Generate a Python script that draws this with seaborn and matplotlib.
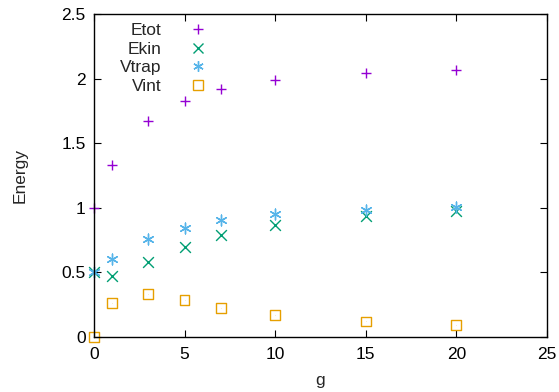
import numpy as np
import pandas as pd
from matplotlib import pyplot as plt
from matplotlib.lines import Line2D
import seaborn as sns

# valores
g = [0, 1, 3, 5, 7, 10, 15, 20]
etot = [1.0, 1.33, 1.67, 1.83, 1.92, 1.99, 2.04, 2.07]
ekin = [0.5, 0.47, 0.58, 0.70, 0.79, 0.87, 0.94, 0.975]
vtrap = [0.5, 0.60, 0.76, 0.84, 0.905, 0.95, 0.985, 1.005]
vint = [0.0, 0.26, 0.33, 0.285, 0.225, 0.17, 0.12, 0.09]

series = ["Etot", "Ekin", "Vtrap", "Vint"]
colores = ["#9400d3", "#009e73", "#56b4e9", "#e69f00"]
asterisco = (6, 2, 0)
marcadores = ["+", "x", asterisco, "s"]

sns.set_style("ticks")
plt.rcParams['font.family'] = ['Liberation Sans', 'DejaVu Sans']

df = pd.DataFrame({"g": g, "Etot": etot, "Ekin": ekin, "Vtrap": vtrap, "Vint": vint})

fig = plt.figure(figsize=(5.59, 3.92), dpi=100)
ax = fig.add_axes([0.168, 0.1403, 0.8105, 0.824])

for nombre, color, m in zip(series, colores, marcadores):
    if m == "s":
        sns.scatterplot(data=df, x="g", y=nombre, ax=ax, marker="s", s=50,
                        facecolor="none", edgecolor=color, linewidth=1.0, clip_on=False)
        sns.scatterplot(data=df, x="g", y=nombre, ax=ax, marker=".", s=2,
                        color=color, linewidth=0, clip_on=False)
    else:
        sns.scatterplot(data=df, x="g", y=nombre, ax=ax, marker=m, s=60,
                        color=color, linewidth=1.0, clip_on=False)

ax.set_xlim(0, 25)
ax.set_ylim(0, 2.5)
ax.set_xticks([0, 5, 10, 15, 20, 25])
ax.set_yticks([0, 0.5, 1, 1.5, 2, 2.5])
ax.set_yticklabels(["0", "0.5", "1", "1.5", "2", "2.5"])
ax.tick_params(direction="in", top=True, right=True, labelsize=12.5, length=5, width=0.8,
               colors="black", pad=6)
ax.tick_params(axis="x", pad=7)
ax.set_xlabel("g", fontsize=12.5, labelpad=8)
ax.set_ylabel("Energy", fontsize=12.5, labelpad=24)
for sp in ax.spines.values():
    sp.set_linewidth(1.0)
    sp.set_color("black")

handles = []
for nombre, color, m in zip(series, colores, marcadores):
    if m == "s":
        h = Line2D([], [], linestyle="none", marker="s", markersize=7,
                   markerfacecolor="none", markeredgecolor=color, markeredgewidth=1.0)
    else:
        h = Line2D([], [], linestyle="none", marker=m, markersize=7.5,
                   color=color, markeredgewidth=1.0)
    handles.append(h)
leg = ax.legend(handles, series, loc="upper left", bbox_to_anchor=(0.03, 1.01),
                frameon=False, markerfirst=False, fontsize=12.5, handletextpad=1.1,
                labelspacing=0.2, borderpad=0.2)
for t in leg.get_texts():
    t.set_ha("right")
    t.set_position((0, 0))
leg._legend_box.align = "right"

fig.savefig("out.png", dpi=100)
